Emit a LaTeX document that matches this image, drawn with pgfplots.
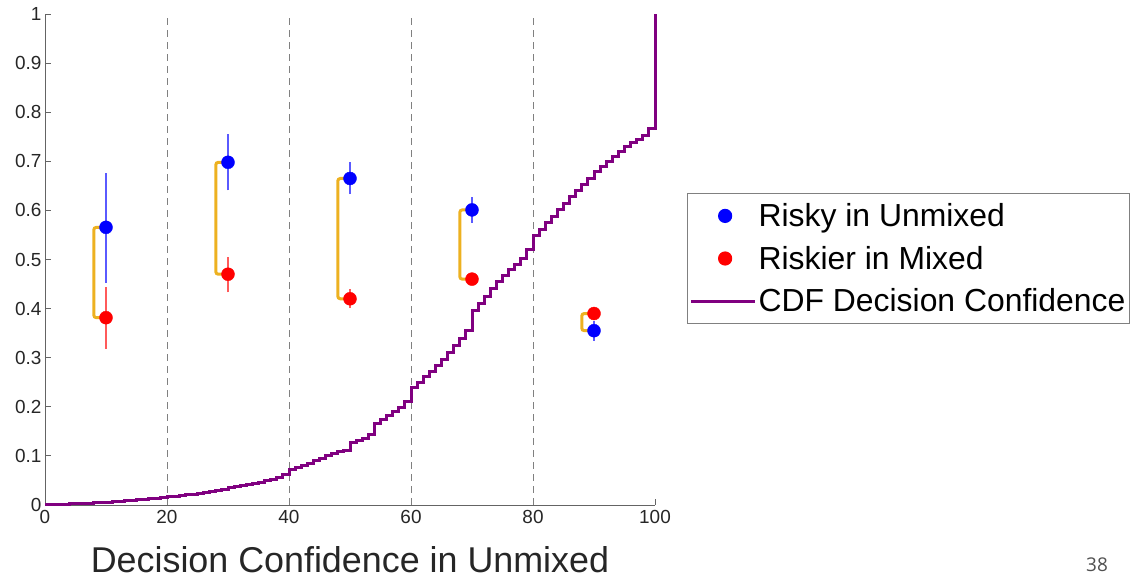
\documentclass[border=0pt]{standalone}
\usepackage{fontspec}
\setmainfont{Liberation Sans}
\newfontfamily\osans{Open Sans}
\usepackage{pgfplots}
\pgfplotsset{compat=1.18}
\definecolor{mblue}{RGB}{0,0,255}
\definecolor{mred}{RGB}{255,0,0}
\definecolor{mpurple}{RGB}{128,0,128}
\definecolor{morange}{RGB}{237,177,32}
\definecolor{axgray}{RGB}{100,100,100}
\definecolor{txtgray}{RGB}{38,38,38}
\definecolor{ebblue}{RGB}{90,90,255}
\definecolor{ebred}{RGB}{255,90,90}
\begin{document}
\begin{tikzpicture}
\useasboundingbox (0,0) rectangle (1130bp,580bp);
\begin{axis}[
  at={(45bp,75bp)}, anchor=south west,
  width=610bp, height=491bp, scale only axis,
  xmin=0, xmax=100, ymin=0, ymax=1,
  clip=false,
  axis x line*=bottom, axis y line*=left,
  axis line style={axgray, line width=0.9bp, -},
  tick align=inside, major tick length=6bp,
  tick style={axgray, line width=0.9bp},
  xtick={0,20,40,60,80,100},
  xticklabels={0,20,40,60,80,100},
  ytick={0,0.1,0.2,0.3,0.4,0.5,0.6,0.7,0.8,0.9,1},
  yticklabels={0,0.1,0.2,0.3,0.4,0.5,0.6,0.7,0.8,0.9,1},
  ticklabel style={font=\fontsize{19}{22}\selectfont, text=txtgray},
  xticklabel style={yshift=-2bp},
  xlabel={Decision Confidence in Unmixed},
  xlabel style={font=\fontsize{36}{40}\selectfont, text=txtgray, at={(axis description cs:0.5,0)}, anchor=base, yshift=-67bp},
  legend cell align=left,
  legend style={at={(axis description cs:1.0525,0.6354)}, anchor=north west,
    draw=gray, line width=1.2bp, inner xsep=2bp, inner ysep=5bp,
    font=\fontsize{32}{38}\selectfont,
    nodes={inner xsep=2bp, inner ysep=5bp},
    row sep=8bp},
  legend image code/.code={\draw[mark repeat=2,mark phase=2,#1] plot coordinates {(0bp,0bp) (34bp,0bp) (64bp,0bp)};},
]
% dashed grid lines
\addplot[forget plot, gray, line width=0.9bp, dash pattern=on 7bp off 5bp] coordinates {(20,0) (20,1)};
\addplot[forget plot, gray, line width=0.9bp, dash pattern=on 7bp off 5bp] coordinates {(40,0) (40,1)};
\addplot[forget plot, gray, line width=0.9bp, dash pattern=on 7bp off 5bp] coordinates {(60,0) (60,1)};
\addplot[forget plot, gray, line width=0.9bp, dash pattern=on 7bp off 5bp] coordinates {(80,0) (80,1)};
% brackets
\addplot[forget plot, morange, line width=3bp, rounded corners=2.5bp] coordinates {(10,0.5655) (8,0.5655) (8,0.3815) (10,0.3815)};
\addplot[forget plot, morange, line width=3bp, rounded corners=2.5bp] coordinates {(30,0.698) (28,0.698) (28,0.470) (30,0.470)};
\addplot[forget plot, morange, line width=3bp, rounded corners=2.5bp] coordinates {(50,0.665) (48,0.665) (48,0.420) (50,0.420)};
\addplot[forget plot, morange, line width=3bp, rounded corners=2.5bp] coordinates {(70,0.601) (68,0.601) (68,0.460) (70,0.460)};
\addplot[forget plot, morange, line width=3bp, rounded corners=2.5bp] coordinates {(90,0.390) (88,0.390) (88,0.355) (90,0.355)};
% error bars
\addplot[forget plot, ebblue, line width=1.3bp] coordinates {(10,0.453) (10,0.677)};
\addplot[forget plot, ebblue, line width=1.3bp] coordinates {(30,0.641) (30,0.756)};
\addplot[forget plot, ebblue, line width=1.3bp] coordinates {(50,0.633) (50,0.699)};
\addplot[forget plot, ebblue, line width=1.3bp] coordinates {(70,0.575) (70,0.628)};
\addplot[forget plot, ebblue, line width=1.3bp] coordinates {(90,0.335) (90,0.375)};
\addplot[forget plot, ebred, line width=1.3bp] coordinates {(10,0.318) (10,0.443)};
\addplot[forget plot, ebred, line width=1.3bp] coordinates {(30,0.433) (30,0.506)};
\addplot[forget plot, ebred, line width=1.3bp] coordinates {(50,0.401) (50,0.440)};
\addplot[forget plot, ebred, line width=1.3bp] coordinates {(70,0.448) (70,0.472)};
\addplot[forget plot, ebred, line width=1.3bp] coordinates {(90,0.380) (90,0.400)};
% dots
\addplot[only marks, mark=*, mark size=6.5bp, mblue, mark options={draw=mblue, fill=mblue}] coordinates {(10,0.5655) (30,0.698) (50,0.665) (70,0.601) (90,0.355)};
\addlegendentry{Risky in Unmixed}
\addplot[only marks, mark=*, mark size=6.5bp, mred, mark options={draw=mred, fill=mred}] coordinates {(10,0.3815) (30,0.470) (50,0.420) (70,0.460) (90,0.390)};
\addlegendentry{Riskier in Mixed}
% CDF
\addplot[const plot, mpurple, line width=3bp, no marks] table {
x y
0 0.001
1 0.001
2 0.002
3 0.002
4 0.003
5 0.003
6 0.004
7 0.004
8 0.005
9 0.005
10 0.006
11 0.007
12 0.008
13 0.009
14 0.010
15 0.011
16 0.012
17 0.013
18 0.014
19 0.015
20 0.017
21 0.018
22 0.019
23 0.021
24 0.022
25 0.024
26 0.026
27 0.028
28 0.030
29 0.032
30 0.035
31 0.037
32 0.039
33 0.041
34 0.044
35 0.046
36 0.049
37 0.052
38 0.055
39 0.062
40 0.072
41 0.076
42 0.080
43 0.085
44 0.090
45 0.095
46 0.100
47 0.105
48 0.108
49 0.111
50 0.128
51 0.131
52 0.135
53 0.143
54 0.165
55 0.175
56 0.182
57 0.190
58 0.198
59 0.210
60 0.240
61 0.250
62 0.262
63 0.272
64 0.285
65 0.297
66 0.310
67 0.325
68 0.340
69 0.355
70 0.397
71 0.410
72 0.425
73 0.440
74 0.455
75 0.468
76 0.480
77 0.490
78 0.502
79 0.520
80 0.548
81 0.562
82 0.575
83 0.588
84 0.602
85 0.615
86 0.628
87 0.640
88 0.652
89 0.665
90 0.679
91 0.690
92 0.700
93 0.710
94 0.720
95 0.730
96 0.738
97 0.745
98 0.752
99 0.766
100 1.000
};
\addlegendentry{CDF Decision Confidence}
\end{axis}
\node[font=\osans\fontsize{19}{22}\selectfont, text={rgb,255:red,80;green,80;blue,80}] at (1097bp,15bp) {38};
\end{tikzpicture}
\end{document}
